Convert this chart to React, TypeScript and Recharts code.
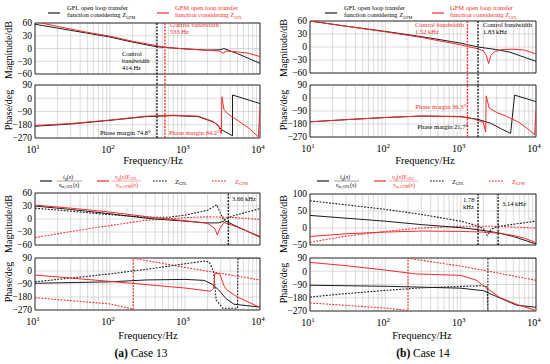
import React from "react";
import {
  LineChart,
  Line,
  XAxis,
  YAxis,
  CartesianGrid,
  ReferenceLine,
  ReferenceArea,
} from "recharts";

type Pt = [number, number];

const FONT = "'Liberation Serif', 'Times New Roman', serif";
const BLK = "#1c1c1c";
const RED = "#f52a2a";

// grid / tick frequencies (log decades 10 Hz .. 10 kHz)
const GRID_F = [
  10, 20, 30, 40, 50, 60, 70, 80, 90,
  100, 200, 300, 400, 500, 600, 700, 800, 900,
  1000, 2000, 3000, 4000, 5000, 6000, 7000, 8000, 9000, 10000,
];
const MAG_TICKS = [-60, -30, 0, 30, 60];
const MAG_TICKS_B2 = [-50, 0, 50, 100];
const PHASE_TICKS = [-270, -180, -90, 0, 90];

// ---- (a) Case 13, open loop ----
const a1MagGfl: Pt[] = [[10, 57], [20, 48], [50, 36], [100, 27], [200, 15], [423, 4], [1000, -1], [2000, -4], [3000, -3], [3300, 0], [5000, -12], [10000, -35]];
const a1MagGfm: Pt[] = [[10, 63], [20, 52], [50, 38], [100, 29], [200, 17], [540, 3], [1000, -1], [2000, -4], [2900, -6], [3200, -11], [3600, -6], [5000, -8], [7000, -11], [10000, -19]];
const a1PhGfl: Pt[] = [[10, -190], [30, -175], [100, -150], [300, -125], [700, -118], [1500, -125], [2500, -165], [3100, -215], [4300, -255], [4300, 22], [10000, -36]];
const a1PhGfm: Pt[] = [[10, -185], [30, -172], [100, -148], [300, -122], [700, -115], [1500, -122], [2300, -155], [2800, -185], [3050, -240], [3100, 10], [3300, -75], [3700, -105], [5000, -150], [7000, -200], [9500, -262], [10000, -60]];

// ---- (b) Case 14, open loop ----
const b1MagGfl: Pt[] = [[10, 60], [30, 48], [100, 36], [300, 24], [1000, 9], [1700, 0], [3000, -6], [4500, -12], [10000, -33]];
const b1MagGfm: Pt[] = [[10, 60], [30, 48], [100, 35], [300, 22], [1000, 5], [1230, 1], [1700, -4], [2000, -9], [2200, -20], [2350, -38], [2500, -20], [2800, -11], [3500, -6], [5000, -5], [7000, -7], [10000, -16]];
const b1PhGfl: Pt[] = [[10, -165], [30, -150], [100, -135], [300, -125], [1000, -128], [1700, -148], [2500, -175], [3500, -215], [4600, -245], [5200, 20], [10000, -25]];
const b1PhGfm: Pt[] = [[10, -165], [30, -150], [100, -135], [300, -125], [1000, -130], [1500, -145], [2000, -170], [2150, -235], [2180, 15], [2400, -70], [3000, -100], [4000, -125], [6000, -170], [8300, -225], [9600, -255], [10000, -85]];

// ---- (a) Case 13, impedances ----
const a2MagIg: Pt[] = [[10, 30], [30, 22], [100, 12], [340, 1], [1000, -5], [2000, -9], [2800, -9], [3400, -4], [4500, -14], [10000, -42]];
const a2MagVg: Pt[] = [[10, 32], [30, 25], [100, 16], [400, 3], [1000, -4], [2000, -10], [2500, -22], [2700, -37], [2900, -22], [3300, -8], [4500, -16], [10000, -40]];
const a2MagZgfl: Pt[] = [[10, 25], [30, 18], [100, 10], [300, 4], [600, 4], [1000, 9], [2000, 20], [2650, 33], [3250, -2], [4500, 8], [10000, 24]];
const a2MagZgfm: Pt[] = [[10, -43], [30, -29], [100, -15], [300, -3], [1000, 3], [2000, 5], [4000, 4], [10000, -1]];
const a2PhIg: Pt[] = [[10, -85], [100, -75], [300, -62], [1000, -58], [1800, -65], [2300, -92], [2800, -130], [3500, -190], [4500, -230], [10000, -250]];
const a2PhVg: Pt[] = [[10, -28], [100, -72], [1000, -118], [2200, -140], [2400, -120], [2500, -15], [2900, -20], [3300, -100], [3600, -130], [5000, -180], [7000, -215], [10000, -252]];
const a2PhZgfl: Pt[] = [[10, -75], [100, -20], [343, 15], [1000, 50], [1800, 68], [2100, 62], [2400, 0], [2600, -200], [3200, -258], [5000, -258], [5100, 90], [10000, 90]];
const a2PhZgfm: Pt[] = [[10, -185], [100, -228], [205, -265], [205, 88], [1000, 25], [10000, -62]];

// ---- (b) Case 14, impedances ----
const b2MagIg: Pt[] = [[10, 37], [100, 20], [300, 10], [1000, 1], [1700, -5], [3140, -14], [5000, -25], [10000, -47]];
const b2MagVg: Pt[] = [[10, -25], [30, -17], [100, -12], [300, -9], [1000, -10], [2000, -12], [3140, -15], [5000, -22], [7000, -30], [10000, -43]];
const b2MagZgfl: Pt[] = [[10, 80], [100, 55], [300, 40], [1000, 20], [1700, 6], [2000, -2], [2250, -22], [2500, -5], [3140, 5], [10000, 20]];
const b2MagZgfm: Pt[] = [[10, -42], [30, -24], [100, -10], [300, 0], [1000, 5], [3000, 5], [10000, 0]];
const b2PhIg: Pt[] = [[10, -95], [100, -102], [300, -108], [1000, -115], [2000, -132], [3000, -172], [5500, -230], [10000, -245]];
const b2PhVg: Pt[] = [[10, 60], [30, 38], [100, 8], [250, -18], [1000, -28], [1600, -60], [2300, -120], [3300, -178], [6000, -232], [10000, -266]];
const b2PhZgfl: Pt[] = [[10, -175], [30, -152], [100, -130], [300, -113], [1000, -103], [2000, -98], [2250, -105], [2300, -270], [2300, 90], [10000, 90]];
const b2PhZgfm: Pt[] = [[10, -215], [100, -250], [200, -266], [200, 88], [1000, 35], [2200, 3], [10000, -62]];

// marked frequencies
const A1_BW = [423, 540];
const B1_BW = [1230, 1700];
const A2_MARK = [3780];
const B2_MARK = [1700, 3140];

type S = { pts: Pt[]; color: string; dash?: boolean };
type V = { f: number; color: string; through?: boolean };

const fmtY = (v: number) => (v < 0 ? `\u2212${-v}` : `${v}`);

const XTick = (props: any) => {
  const { x, y, payload } = props;
  const lg = Math.log10(payload.value);
  const e = Math.round(lg);
  if (Math.abs(lg - e) > 1e-6) return <g />;
  return (
    <text x={x - 2} y={y + 15} textAnchor="middle" fontSize={10} fontFamily={FONT} fill="#000">
      10<tspan dy={-4.5} fontSize={7}>{e}</tspan>
    </text>
  );
};
const NoTick = () => <g />;

function Plot({
  left, top, w, h, dom, ticks, lines, vlines = [], xLabels = false, gap = 0,
}: {
  left: number; top: number; w: number; h: number; dom: [number, number]; ticks: number[];
  lines: S[]; vlines?: V[]; xLabels?: boolean; gap?: number;
}) {
  const YW = 30, TP = 6, RP = 8;
  const XH = xLabels ? 20 : 1;
  const BM = Math.max(gap, 7);
  const perPx = (dom[1] - dom[0]) / h;
  return (
    <div style={{ position: "absolute", left: left - YW, top: top - TP }}>
      <LineChart width={YW + w + RP} height={TP + h + XH + BM} margin={{ top: TP, right: RP, left: 0, bottom: BM }}>
        <CartesianGrid stroke="#b8b8b8" strokeWidth={0.5} />
        <XAxis
          dataKey="f" type="number" scale="log" domain={[10, 10000]} ticks={GRID_F} interval={0}
          allowDataOverflow axisLine={false} tickLine={false} tickSize={0} tickMargin={0}
          height={XH} tick={xLabels ? XTick : NoTick}
        />
        <YAxis
          type="number" domain={dom} ticks={ticks} interval={0} allowDataOverflow width={YW}
          axisLine={false} tickLine={false} tickSize={0} tickMargin={3} tickFormatter={fmtY}
          tick={{ fontSize: 9.5, fill: "#000", fontFamily: FONT }}
        />
        {lines.map((s, i) => (
          <Line
            key={i}
            data={s.pts.map(([f, v]) => ({ f, v }))}
            dataKey="v"
            type="linear"
            stroke={s.color}
            strokeWidth={s.dash ? 1.1 : 1}
            strokeDasharray={s.dash ? "1.8 1.4" : undefined}
            dot={false}
            activeDot={false}
            isAnimationActive={false}
          />
        ))}
        {vlines.map((v, i) =>
          gap > 0 && v.through ? (
            <ReferenceLine
              key={"v" + i}
              segment={[{ x: v.f, y: dom[1] }, { x: v.f, y: dom[0] - gap * perPx }]}
              stroke={v.color} strokeWidth={1.4} strokeDasharray="2 1.3" ifOverflow="visible"
            />
          ) : (
            <ReferenceLine key={"v" + i} x={v.f} stroke={v.color} strokeWidth={1.4} strokeDasharray="2 1.3" />
          )
        )}
        <ReferenceArea x1={10} x2={10000} y1={dom[0]} y2={dom[1]} fill="none" fillOpacity={0} stroke="#000" strokeWidth={0.8} ifOverflow="visible" />
      </LineChart>
    </div>
  );
}

function T({ x, y, s = 6.5, c = "#000", a = "start", children }: any) {
  return (
    <text x={x} y={y} fontSize={s} fill={c} textAnchor={a} fontFamily={FONT}>
      {children}
    </text>
  );
}

function VT({ x, y, children }: any) {
  return (
    <text x={x} y={y} fontSize={10} textAnchor="middle" fontFamily={FONT} transform={`rotate(-90 ${x} ${y})`} dominantBaseline="middle">
      {children}
    </text>
  );
}

const Sub = ({ children }: any) => (
  <>
    <tspan dy={1.5} fontSize={4.2}>{children}</tspan>
    <tspan dy={-1.5}>{""}</tspan>
  </>
);

function TopLegend({ x0, x1 }: { x0: number; x1: number }) {
  return (
    <g>
      <line x1={x0} x2={x0 + 12} y1={13} y2={13} stroke={BLK} strokeWidth={1.2} />
      <T x={x0 + 19} y={10}>GFL open loop transfer</T>
      <T x={x0 + 19} y={17}>function  considering Z<Sub>GFM</Sub></T>
      <line x1={x1} x2={x1 + 12} y1={13} y2={13} stroke={RED} strokeWidth={1.2} />
      <T x={x1 + 18} y={10} c={RED}>GFM open loop transfer</T>
      <T x={x1 + 18} y={17} c={RED}>function  considering Z<Sub>GFL</Sub></T>
    </g>
  );
}

function ImpLegend({ x0, y }: { x0: number; y: number }) {
  const it = "italic";
  return (
    <g fontFamily={FONT}>
      <line x1={x0} x2={x0 + 12} y1={y} y2={y} stroke={BLK} strokeWidth={1.2} />
      <text x={x0 + 28} y={y - 2} fontSize={6} textAnchor="middle">
        <tspan fontStyle={it}>i</tspan><tspan dy={1.3} fontSize={4}>g</tspan><tspan dy={-1.3}>(</tspan><tspan fontStyle={it}>s</tspan>)
      </text>
      <line x1={x0 + 17} x2={x0 + 42} y1={y} y2={y} stroke={BLK} strokeWidth={0.4} />
      <text x={x0 + 29} y={y + 5.5} fontSize={6} textAnchor="middle">
        <tspan fontStyle={it}>v</tspan><tspan dy={1.3} fontSize={4}>m,GFL</tspan><tspan dy={-1.3}>(</tspan><tspan fontStyle={it}>s</tspan>)
      </text>

      <line x1={x0 + 57} x2={x0 + 69} y1={y} y2={y} stroke={RED} strokeWidth={1.2} />
      <text x={x0 + 86} y={y - 2} fontSize={6} textAnchor="middle" fill={RED}>
        <tspan fontStyle={it}>v</tspan><tspan dy={1.3} fontSize={4}>g</tspan><tspan dy={-1.3}>(</tspan><tspan fontStyle={it}>s</tspan>)<tspan fontStyle={it}>Y</tspan><tspan dy={1.3} fontSize={4}>GFL</tspan>
      </text>
      <line x1={x0 + 72} x2={x0 + 101} y1={y} y2={y} stroke={RED} strokeWidth={0.4} />
      <text x={x0 + 87} y={y + 5.5} fontSize={6} textAnchor="middle" fill={RED}>
        <tspan fontStyle={it}>v</tspan><tspan dy={1.3} fontSize={4}>m,GFM</tspan><tspan dy={-1.3}>(</tspan><tspan fontStyle={it}>s</tspan>)
      </text>

      <line x1={x0 + 113} x2={x0 + 127} y1={y} y2={y} stroke={BLK} strokeWidth={1.2} strokeDasharray="1.8 1.2" />
      <text x={x0 + 135} y={y + 2.5} fontSize={6.5}>Z<tspan dy={1.3} fontSize={4.2}>GFL</tspan></text>
      <line x1={x0 + 172} x2={x0 + 187} y1={y} y2={y} stroke={RED} strokeWidth={1.2} strokeDasharray="1.8 1.2" />
      <text x={x0 + 195} y={y + 2.5} fontSize={6.5} fill={RED}>Z<tspan dy={1.3} fontSize={4.2}>GFM</tspan></text>
    </g>
  );
}

export default function App() {
  const L1 = 35, L2 = 310, W1 = 225, W2 = 226;
  return (
    <div style={{ position: "absolute", left: 0, top: 0, width: 550, height: 364, background: "#fff", overflow: "hidden" }}>
      {/* (a) open loop */}
      <Plot left={L1} top={23} w={W1} h={51} dom={[-60, 60]} ticks={MAG_TICKS} gap={11}
        lines={[{ pts: a1MagGfl, color: BLK }, { pts: a1MagGfm, color: RED }]}
        vlines={[{ f: A1_BW[0], color: BLK, through: true }, { f: A1_BW[1], color: RED, through: true }]} />
      <Plot left={L1} top={85} w={W1} h={53} dom={[-270, 90]} ticks={PHASE_TICKS} xLabels
        lines={[{ pts: a1PhGfl, color: BLK }, { pts: a1PhGfm, color: RED }]}
        vlines={[{ f: A1_BW[0], color: BLK, through: true }, { f: A1_BW[1], color: RED, through: true }]} />

      {/* (b) open loop */}
      <Plot left={L2} top={21} w={W2} h={52} dom={[-60, 60]} ticks={MAG_TICKS} gap={12}
        lines={[{ pts: b1MagGfl, color: BLK }, { pts: b1MagGfm, color: RED }]}
        vlines={[{ f: B1_BW[0], color: RED, through: true }, { f: B1_BW[1], color: BLK, through: true }]} />
      <Plot left={L2} top={85} w={W2} h={52} dom={[-270, 90]} ticks={PHASE_TICKS} xLabels
        lines={[{ pts: b1PhGfl, color: BLK }, { pts: b1PhGfm, color: RED }]}
        vlines={[{ f: B1_BW[0], color: RED, through: true }, { f: B1_BW[1], color: BLK, through: true }]} />

      {/* (a) impedances */}
      <Plot left={L1} top={193} w={W1} h={52} dom={[-60, 60]} ticks={MAG_TICKS}
        lines={[
          { pts: a2MagZgfm, color: RED, dash: true },
          { pts: a2MagZgfl, color: BLK, dash: true },
          { pts: a2MagIg, color: BLK },
          { pts: a2MagVg, color: RED },
        ]}
        vlines={[{ f: A2_MARK[0], color: BLK }]} />
      <Plot left={L1} top={258} w={W1} h={52} dom={[-270, 90]} ticks={PHASE_TICKS} xLabels
        lines={[
          { pts: a2PhZgfm, color: RED, dash: true },
          { pts: a2PhZgfl, color: BLK, dash: true },
          { pts: a2PhIg, color: BLK },
          { pts: a2PhVg, color: RED },
        ]} />

      {/* (b) impedances */}
      <Plot left={L2} top={194} w={W2} h={51} dom={[-50, 100]} ticks={MAG_TICKS_B2}
        lines={[
          { pts: b2MagZgfm, color: RED, dash: true },
          { pts: b2MagZgfl, color: BLK, dash: true },
          { pts: b2MagIg, color: BLK },
          { pts: b2MagVg, color: RED },
        ]}
        vlines={[{ f: B2_MARK[0], color: BLK }, { f: B2_MARK[1], color: BLK }]} />
      <Plot left={L2} top={258} w={W2} h={53} dom={[-270, 90]} ticks={PHASE_TICKS} xLabels
        lines={[
          { pts: b2PhZgfm, color: RED, dash: true },
          { pts: b2PhZgfl, color: BLK, dash: true },
          { pts: b2PhIg, color: BLK },
          { pts: b2PhVg, color: RED },
        ]} />

      {/* texts */}
      <svg width={550} height={364} style={{ position: "absolute", left: 0, top: 0, pointerEvents: "none" }}>
        <TopLegend x0={48} x1={157} />
        <TopLegend x0={325} x1={432} />
        <ImpLegend x0={40} y={181} />
        <ImpLegend x0={317} y={181} />

        <VT x={10} y={50}>Magnitude/dB</VT>
        <VT x={10} y={110}>Phase/deg</VT>
        <VT x={285} y={48}>Magnitude/dB</VT>
        <VT x={285} y={110}>Phase/deg</VT>
        <VT x={10} y={224}>Magnitude/dB</VT>
        <VT x={10} y={282}>Phase/deg</VT>
        <VT x={285} y={224}>Magnitude/dB</VT>
        <VT x={285} y={283}>Phase/deg</VT>

        <T x={153} y={164} s={10.5} a="middle">Frequency/Hz</T>
        <T x={425} y={164} s={10.5} a="middle">Frequency/Hz</T>
        <T x={148} y={339} s={10.5} a="middle">Frequency/Hz</T>
        <T x={422} y={339} s={10.5} a="middle">Frequency/Hz</T>

        {/* (a) open-loop annotations */}
        <T x={122} y={56}>Control</T>
        <T x={122} y={63}>bandwidth</T>
        <T x={122} y={70}>414 Hz</T>
        <T x={170} y={27} c={RED}>Control bandwidth</T>
        <T x={170} y={34} c={RED}>533 Hz</T>
        <T x={100} y={135}>Phase margin 74.8°</T>
        <T x={169} y={135} c={RED}>Phase margin 84.2°</T>

        {/* (b) open-loop annotations */}
        <T x={415} y={27} c={RED}>Control bandwidth</T>
        <T x={415} y={34} c={RED}>1.52 kHz</T>
        <T x={483} y={27}>Control bandwidth</T>
        <T x={483} y={34}>1.83 kHz</T>
        <T x={466} y={109} c={RED} a="end">Phase margin 36.3°</T>
        <T x={468} y={129} a="end">Phase margin 21.7°</T>

        {/* impedance annotations */}
        <T x={232} y={201}>3.66 kHz</T>
        <T x={463} y={202}>1.78</T>
        <T x={463} y={209}>kHz</T>
        <T x={502} y={206}>3.14 kHz</T>

        <text x={141} y={357} fontSize={11.5} textAnchor="middle" fontFamily={FONT}>
          <tspan fontWeight="bold">(a)</tspan> Case 13
        </text>
        <text x={423} y={357} fontSize={11.5} textAnchor="middle" fontFamily={FONT}>
          <tspan fontWeight="bold">(b)</tspan> Case 14
        </text>
      </svg>
    </div>
  );
}
